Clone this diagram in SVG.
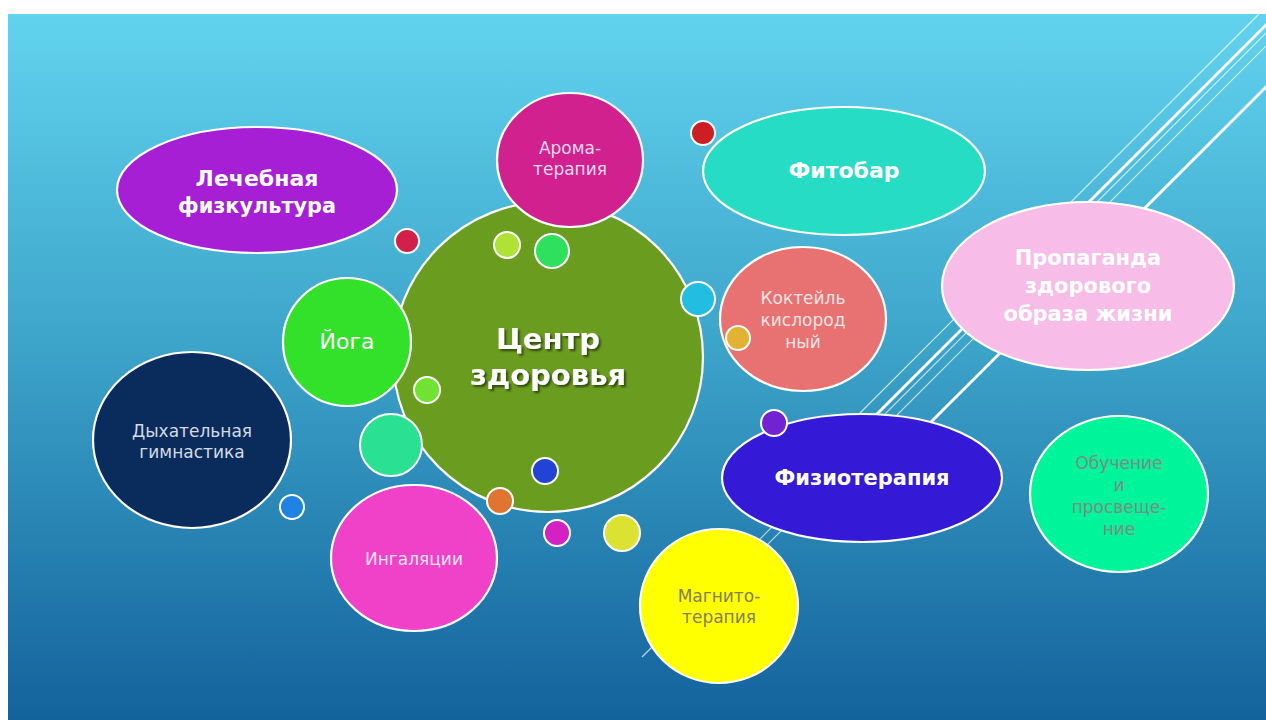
<svg xmlns="http://www.w3.org/2000/svg" width="1266" height="720" viewBox="0 0 1266 720">
<defs>
<linearGradient id="bg" x1="0" y1="0" x2="0" y2="1">
<stop offset="0" stop-color="#62d3ef"/>
<stop offset="0.45" stop-color="#3ea6cb"/>
<stop offset="1" stop-color="#13629c"/>
</linearGradient>
<filter id="shadow" x="-20%" y="-20%" width="140%" height="140%">
<feDropShadow dx="2" dy="2" stdDeviation="1" flood-color="#000" flood-opacity="0.55"/>
</filter>
<clipPath id="slide"><rect x="8" y="14" width="1258" height="706"/></clipPath>
</defs>
<style>
.n{stroke:#fff;stroke-width:2.2}
.b{stroke:#fff;stroke-width:2}
.t{font-family:"DejaVu Sans","Liberation Sans",sans-serif;text-anchor:middle}
.bold{font-weight:bold;fill:#fff}
.lt{font-weight:normal}
.thick{stroke:#fff;stroke-width:3;fill:none}
.thin{stroke:#fff;stroke-width:1.2;stroke-opacity:0.7;fill:none}
</style>
<rect x="0" y="0" width="1266" height="720" fill="#fff"/>
<rect x="8" y="14" width="1258" height="706" fill="url(#bg)"/>
<g id="decor-lines" clip-path="url(#slide)">
<line class="thin" x1="1259" y1="14" x2="850" y2="423"/>
<line class="thick" x1="1275" y1="16" x2="860" y2="431"/>
<line class="thin" x1="1275" y1="24" x2="642" y2="657"/>
<line class="thin" x1="1275" y1="37" x2="700" y2="612"/>
<line class="thick" x1="1275" y1="78" x2="900" y2="453"/>
</g>
<g id="node-lfk">
<ellipse class="n" cx="257" cy="190" rx="140" ry="63" fill="#a61fd5"/>
<text class="t bold" font-size="22" x="257" y="186">Лечебная</text>
<text class="t bold" font-size="22" x="257" y="213" textLength="158" lengthAdjust="spacingAndGlyphs">физкультура</text>
</g>
<g id="node-center">
<circle class="n" cx="548" cy="357" r="155" fill="#6a9c1f"/>
<g filter="url(#shadow)">
<text class="t bold" font-size="29" x="548" y="349">Центр</text>
<text class="t bold" font-size="29" x="548" y="385">здоровья</text>
</g>
</g>
<g id="node-aroma">
<ellipse class="n" cx="570" cy="160" rx="73" ry="67" fill="#d0218e"/>
<text class="t lt" font-size="17" fill="#f3d8ec" x="570" y="154">Арома-</text>
<text class="t lt" font-size="17" fill="#f3d8ec" x="570" y="175">терапия</text>
</g>
<g id="node-fitobar">
<ellipse class="n" cx="844" cy="171" rx="141" ry="64" fill="#27dcc5"/>
<text class="t bold" font-size="22" x="844" y="178">Фитобар</text>
</g>
<g id="node-propaganda">
<ellipse class="n" cx="1088" cy="286" rx="146" ry="84" fill="#f8bce8"/>
<text class="t bold" font-size="21" x="1088" y="265">Пропаганда</text>
<text class="t bold" font-size="21" x="1088" y="293">здорового</text>
<text class="t bold" font-size="21" x="1088" y="321">образа жизни</text>
</g>
<g id="node-cocktail">
<ellipse class="n" cx="803" cy="319" rx="83" ry="72" fill="#e87272"/>
<text class="t lt" font-size="17" fill="#f8e4e4" x="803" y="304">Коктейль</text>
<text class="t lt" font-size="17" fill="#f8e4e4" x="803" y="326">кислород</text>
<text class="t lt" font-size="17" fill="#f8e4e4" x="803" y="348">ный</text>
</g>
<g id="node-physio">
<ellipse class="n" cx="862" cy="478" rx="140" ry="64" fill="#3419d6"/>
<text class="t bold" font-size="21" x="862" y="485">Физиотерапия</text>
</g>
<g id="node-education">
<ellipse class="n" cx="1119" cy="494" rx="89" ry="78" fill="#00f59a"/>
<text class="t lt" font-size="17" fill="#7c8c84" x="1119" y="469">Обучение</text>
<text class="t lt" font-size="17" fill="#7c8c84" x="1119" y="491">и</text>
<text class="t lt" font-size="17" fill="#7c8c84" x="1119" y="513">просвеще-</text>
<text class="t lt" font-size="17" fill="#7c8c84" x="1119" y="535">ние</text>
</g>
<g id="node-magneto">
<ellipse class="n" cx="719" cy="606" rx="79" ry="77" fill="#ffff00"/>
<text class="t lt" font-size="17" fill="#858060" x="719" y="602">Магнито-</text>
<text class="t lt" font-size="17" fill="#858060" x="719" y="623">терапия</text>
</g>
<g id="node-inhalation">
<ellipse class="n" cx="414" cy="558" rx="83" ry="73" fill="#f042c8"/>
<text class="t lt" font-size="17" fill="#fae2f4" x="414" y="565">Ингаляции</text>
</g>
<g id="node-breathing">
<ellipse class="n" cx="192" cy="440" rx="99" ry="88" fill="#0a2c5c"/>
<text class="t lt" font-size="17" fill="#d4dbe3" x="192" y="437">Дыхательная</text>
<text class="t lt" font-size="17" fill="#d4dbe3" x="192" y="458">гимнастика</text>
</g>
<g id="node-yoga">
<circle class="n" cx="347" cy="342" r="64" fill="#33e12b"/>
<text class="t lt" font-size="22" fill="#fff" x="347" y="349">Йога</text>
</g>
<g id="bubbles">
<circle class="b" cx="407" cy="241" r="12" fill="#d2204a"/>
<circle class="b" cx="507" cy="245" r="13" fill="#aee236"/>
<circle class="b" cx="552" cy="251" r="17" fill="#2fe05e"/>
<circle class="b" cx="703" cy="133" r="12" fill="#cc1e24"/>
<circle class="b" cx="698" cy="299" r="17" fill="#22bde0"/>
<circle class="b" cx="738" cy="338" r="12" fill="#e2b232"/>
<circle class="b" cx="427" cy="390" r="13" fill="#72e232"/>
<circle class="b" cx="391" cy="445" r="31" fill="#2ae092"/>
<circle class="b" cx="292" cy="507" r="12" fill="#2082e2"/>
<circle class="b" cx="545" cy="471" r="13" fill="#2244d6"/>
<circle class="b" cx="500" cy="501" r="13" fill="#e07430"/>
<circle class="b" cx="557" cy="533" r="13" fill="#d422c2"/>
<circle class="b" cx="622" cy="533" r="18" fill="#dce232"/>
<circle class="b" cx="774" cy="423" r="13" fill="#7222d2"/>
</g>
</svg>
